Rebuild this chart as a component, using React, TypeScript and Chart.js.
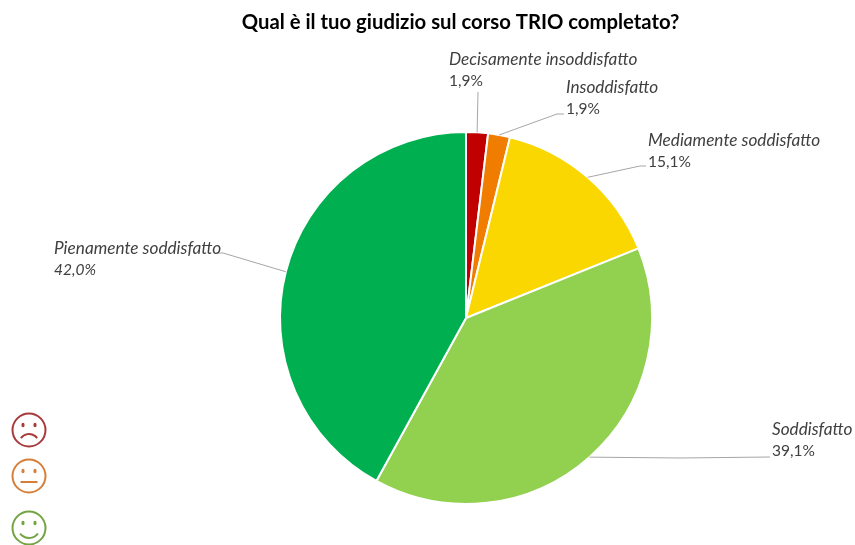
import React, { useEffect, useRef } from "react";
import { Chart, registerables } from "chart.js";

Chart.register(...registerables);

const titleText = "Qual è il tuo giudizio sul corso TRIO completato?";
const categories = [
  "Decisamente insoddisfatto",
  "Insoddisfatto",
  "Mediamente soddisfatto",
  "Soddisfatto",
  "Pienamente soddisfatto",
];
const values = [1.9, 1.9, 15.1, 39.1, 42.0];
const colors = ["#C00000", "#F07D00", "#FAD700", "#92D050", "#00B050"];

// label placement: text x, name baseline, elbow of the leader line, last point of the leader line
const labelLayout = [
  { x: 449, y: 65, elbow: [478, 92], end: [478, 92], italicValue: false },
  { x: 566, y: 93, elbow: [557, 114], end: [564, 114], italicValue: false },
  { x: 648, y: 146, elbow: [640, 166], end: [646, 166], italicValue: false },
  { x: 772, y: 435, elbow: [680, 458], end: [770, 457], italicValue: false },
  { x: 54, y: 254, elbow: [223, 253], end: [216, 253], italicValue: true },
];

const faces = [
  { cx: 29, cy: 430, color: "#A83A3C", mood: -1 },
  { cx: 29, cy: 476, color: "#D67F3A", mood: 0 },
  { cx: 29, cy: 528, color: "#74A343", mood: 1 },
];

const fontFamily = "Lato, 'Open Sans', sans-serif";

const pieLabels = {
  id: "pieLabels",
  afterLayout(chart: any) {
    // title is wider than the pie's box and sits slightly left of the pie's centre
    chart.titleBlock.left -= 105.5;
    chart.titleBlock.right += 94.5;
  },
  afterDatasetsDraw(chart: any) {
    const { ctx } = chart;
    const arcs = chart.getDatasetMeta(0).data;
    ctx.save();
    arcs.forEach((arc: any, i: number) => {
      const layout = labelLayout[i];
      const mid = (arc.startAngle + arc.endAngle) / 2;
      ctx.strokeStyle = "#A6A6A6";
      ctx.lineWidth = 1;
      ctx.beginPath();
      ctx.moveTo(arc.x + Math.cos(mid) * arc.outerRadius, arc.y + Math.sin(mid) * arc.outerRadius);
      ctx.lineTo(layout.elbow[0], layout.elbow[1]);
      ctx.lineTo(layout.end[0], layout.end[1]);
      ctx.stroke();

      ctx.fillStyle = "#404040";
      ctx.textAlign = "left";
      ctx.textBaseline = "alphabetic";
      ctx.font = `italic 17.2px ${fontFamily}`;
      ctx.fillText(categories[i], layout.x, layout.y);
      ctx.font = `${layout.italicValue ? "italic " : ""}15.5px ${fontFamily}`;
      ctx.fillText(values[i].toFixed(1).replace(".", ",") + "%", layout.x, layout.y + 21);
    });

    faces.forEach((f) => {
      ctx.strokeStyle = f.color;
      ctx.fillStyle = f.color;
      ctx.lineWidth = 2;
      ctx.beginPath();
      ctx.arc(f.cx, f.cy, 16.5, 0, Math.PI * 2);
      ctx.stroke();
      [-6, 6].forEach((dx) => {
        ctx.beginPath();
        ctx.ellipse(f.cx + dx, f.cy - 5, 1.6, 2.2, 0, 0, Math.PI * 2);
        ctx.fill();
      });
      ctx.beginPath();
      if (f.mood < 0) ctx.arc(f.cx, f.cy + 14, 10, Math.PI * 1.2, Math.PI * 1.8);
      else if (f.mood > 0) ctx.arc(f.cx, f.cy - 1, 11, Math.PI * 0.2, Math.PI * 0.8);
      else {
        ctx.moveTo(f.cx - 8.5, f.cy + 6);
        ctx.lineTo(f.cx + 8.5, f.cy + 6);
      }
      ctx.stroke();
    });
    ctx.restore();
  },
};

export default function App() {
  const ref = useRef<HTMLCanvasElement>(null);
  useEffect(() => {
    document.body.style.margin = "0";
    const chart = new Chart(ref.current!, {
      type: "pie",
      data: {
        labels: categories,
        datasets: [
          {
            data: values,
            backgroundColor: colors,
            borderColor: "#FFFFFF",
            borderWidth: 2,
          },
        ],
      },
      options: {
        responsive: false,
        animation: false,
        layout: { padding: { top: 0, left: 279, right: 202, bottom: 40 } },
        plugins: {
          legend: { display: false },
          tooltip: { enabled: false },
          title: {
            display: true,
            text: titleText,
            color: "#000000",
            font: { family: fontFamily, size: 20.3, weight: "bold", lineHeight: 1.2 },
            padding: { top: 10, bottom: 96.64 },
          },
        },
      },
      plugins: [pieLabels],
    } as any);
    return () => chart.destroy();
  }, []);
  return <canvas ref={ref} width={855} height={545} style={{ display: "block" }} />;
}
